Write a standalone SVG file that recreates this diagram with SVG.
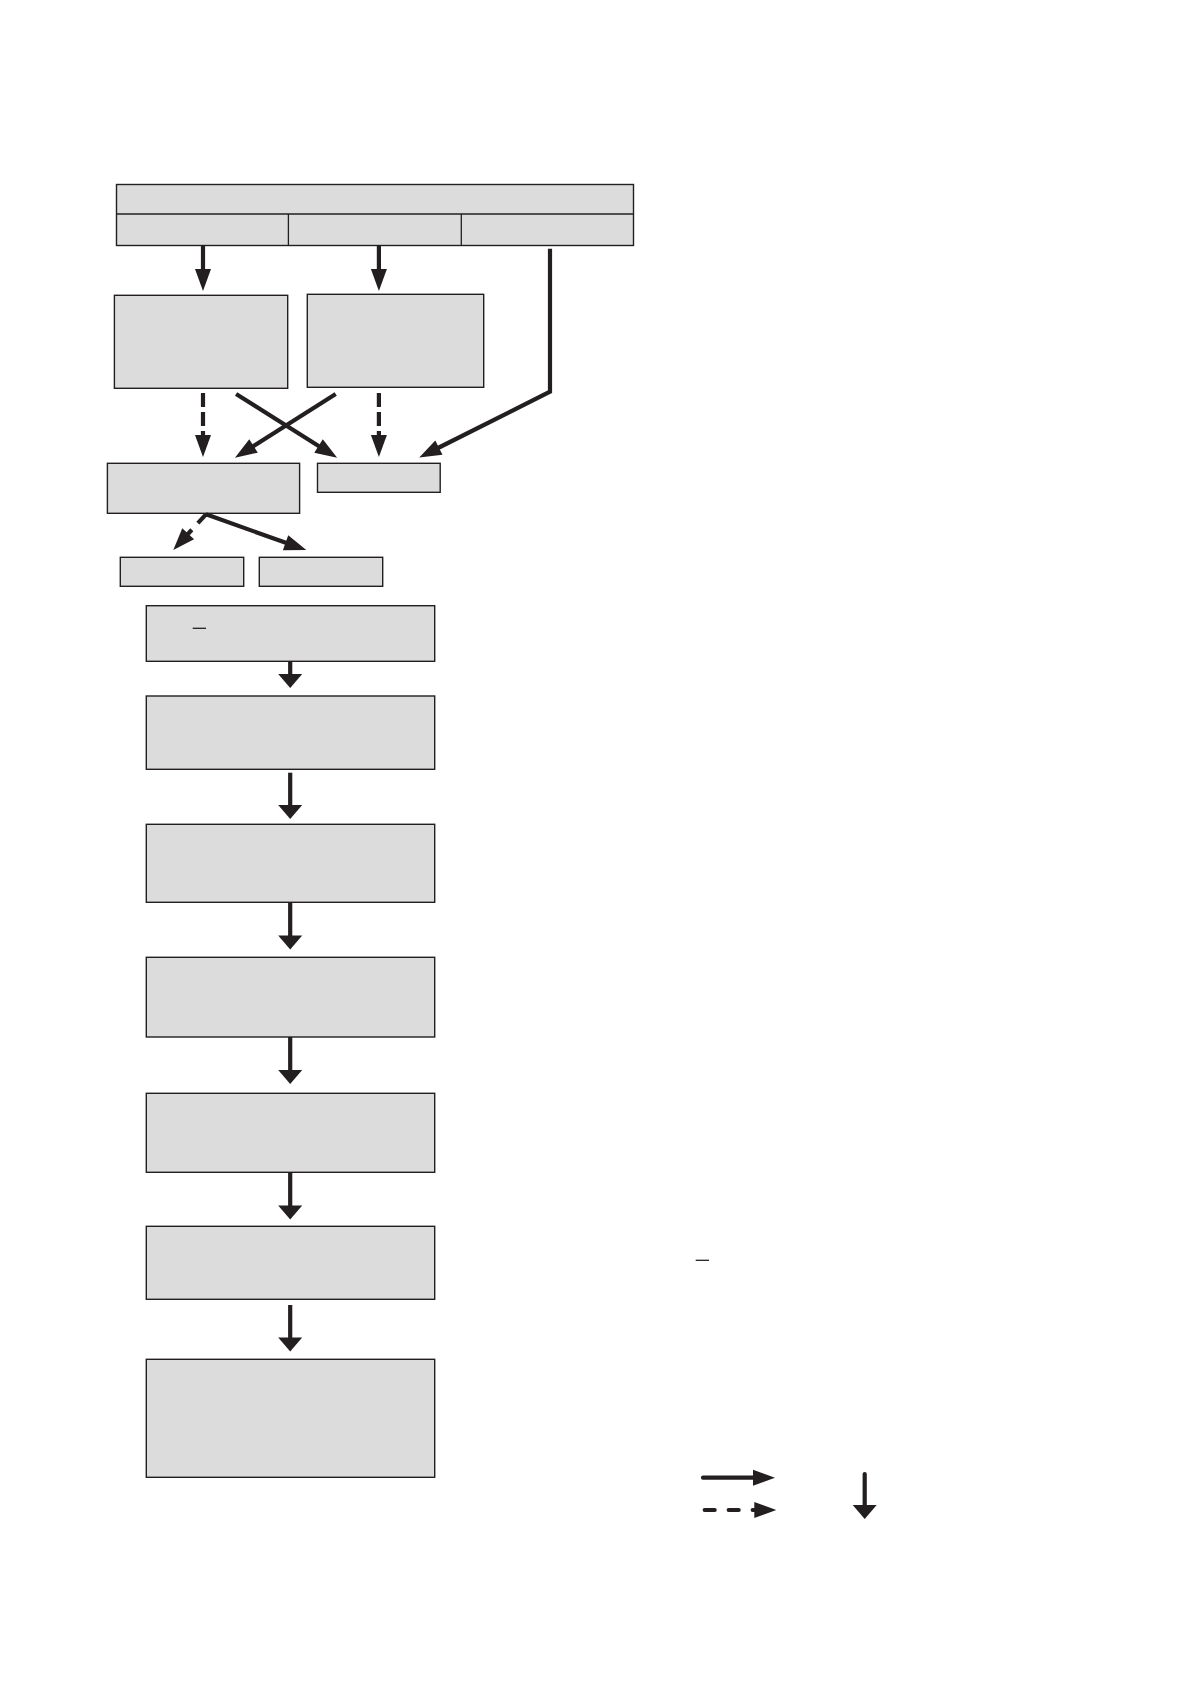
<svg xmlns="http://www.w3.org/2000/svg" width="1191" height="1684" viewBox="0 0 1191 1684">
<style>
.box{fill:#dcdcdc;stroke:#231f20;stroke-width:1.4}
.ln{fill:none;stroke:#231f20;stroke-width:4.2}
.dash{stroke-dasharray:14 5}
.mark{stroke:#231f20;stroke-width:1.3}
</style>
<defs>
<marker id="hn" markerUnits="userSpaceOnUse" markerWidth="25" markerHeight="18" refX="1" refY="8" orient="auto" overflow="visible"><path d="M0,0 L22,8 L0,16 Z" fill="#231f20"/></marker>
<marker id="hf" markerUnits="userSpaceOnUse" markerWidth="16" markerHeight="26" refX="1" refY="12" orient="auto" overflow="visible"><path d="M0,0 L14,12 L0,24 Z" fill="#231f20"/></marker>
</defs>
<rect width="1191" height="1684" fill="#fff"/>
<g id="top">
<rect class="box" x="116.5" y="184.5" width="517" height="61"/>
<line class="mark" x1="116.5" y1="214" x2="633.5" y2="214"/>
<line class="mark" x1="288.4" y1="214" x2="288.4" y2="245.5"/>
<line class="mark" x1="461.3" y1="214" x2="461.3" y2="245.5"/>
</g>
<g id="nodeA"><rect class="box" x="114.4" y="295.3" width="173.3" height="93"/></g>
<g id="nodeB"><rect class="box" x="307.3" y="294.3" width="176.4" height="93"/></g>
<g id="nodeC"><rect class="box" x="107.4" y="463.3" width="192.2" height="50"/></g>
<g id="nodeD"><rect class="box" x="317.5" y="463.3" width="122.7" height="29"/></g>
<g id="nodeE"><rect class="box" x="120.3" y="557.3" width="123.4" height="29"/></g>
<g id="nodeF"><rect class="box" x="259.3" y="557.3" width="123.4" height="29"/></g>
<g id="nodeG"><rect class="box" x="146.3" y="605.7" width="288.4" height="55.6"/>
<line class="mark" x1="192.7" y1="628.3" x2="206" y2="628.3"/></g>
<g id="nodeH"><rect class="box" x="146.3" y="696" width="288.4" height="73.3"/></g>
<g id="nodeI"><rect class="box" x="146.3" y="824.3" width="288.4" height="78"/></g>
<g id="nodeJ"><rect class="box" x="146.3" y="957.3" width="288.4" height="79.7"/></g>
<g id="nodeK"><rect class="box" x="146.3" y="1093.3" width="288.4" height="79"/></g>
<g id="nodeL"><rect class="box" x="146.3" y="1226.3" width="288.4" height="73"/></g>
<g id="nodeM"><rect class="box" x="146.3" y="1359.3" width="288.4" height="118"/></g>
<g id="note"><line class="mark" x1="695.7" y1="1260.3" x2="709" y2="1260.3"/></g>
<g id="connectors">
<line class="ln" x1="203" y1="245.5" x2="203" y2="270" marker-end="url(#hn)"/>
<line class="ln" x1="378.9" y1="245.5" x2="378.9" y2="270" marker-end="url(#hn)"/>
<polyline class="ln" points="550,248.7 550,391.7 438,448" marker-end="url(#hn)"/>
<line class="ln dash" x1="203" y1="393" x2="203" y2="436" marker-end="url(#hn)"/>
<line class="ln dash" x1="378.9" y1="393" x2="378.9" y2="436" marker-end="url(#hn)"/>
<line class="ln" x1="236.1" y1="394" x2="319.4" y2="446.5" marker-end="url(#hn)"/>
<line class="ln" x1="335.7" y1="394" x2="252.7" y2="446.5" marker-end="url(#hn)"/>
<line class="ln" x1="206" y1="514.3" x2="187.5" y2="534.5" stroke-dasharray="12 9" marker-end="url(#hn)"/>
<line class="ln" x1="206" y1="514.3" x2="286.5" y2="543" marker-end="url(#hn)"/>
<line class="ln" x1="290.2" y1="661.3" x2="290.2" y2="675" marker-end="url(#hf)"/>
<line class="ln" x1="290.2" y1="772.7" x2="290.2" y2="806" marker-end="url(#hf)"/>
<line class="ln" x1="290.2" y1="902.3" x2="290.2" y2="936.5" marker-end="url(#hf)"/>
<line class="ln" x1="290.2" y1="1037" x2="290.2" y2="1071" marker-end="url(#hf)"/>
<line class="ln" x1="290.2" y1="1172.3" x2="290.2" y2="1206.5" marker-end="url(#hf)"/>
<line class="ln" x1="290.2" y1="1305" x2="290.2" y2="1338.5" marker-end="url(#hf)"/>
</g>
<g id="legend">
<line class="ln" x1="703" y1="1477.7" x2="754" y2="1477.7" stroke-linecap="round" marker-end="url(#hn)"/>
<line class="ln" x1="704.7" y1="1510" x2="755.3" y2="1510" stroke-linecap="round" stroke-dasharray="10 14" marker-end="url(#hn)"/>
<line class="ln" x1="864.7" y1="1474" x2="864.7" y2="1506" stroke-linecap="round" marker-end="url(#hf)"/>
</g>
</svg>
